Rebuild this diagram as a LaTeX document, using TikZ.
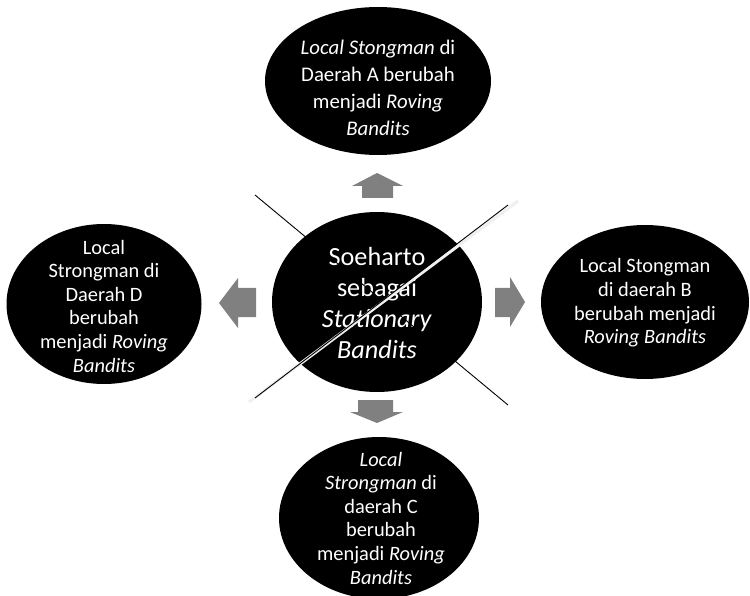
\documentclass[tikz,border=0pt]{standalone}
\usepackage{fontspec}
\setmainfont{Carlito}
\usetikzlibrary{shapes.geometric}
\begin{document}
\begin{tikzpicture}[x=1pt,y=-1pt,
  blob/.style={ellipse, fill=black, inner sep=0pt, outer sep=0pt},
  label/.style={text=white, align=center, inner sep=0pt},
  toptxt/.style={font=\fontsize{20.8}{27}\selectfont},
  smalltxt/.style={font=\fontsize{20.4}{23.6}\selectfont},
  bigtxt/.style={font=\fontsize{26.2}{31}\selectfont},
  blockarrow/.style={fill=gray},
  xline/.style={draw=black, line width=0.9pt},
  band/.style={draw=gray!12, line width=3.2pt}
]
\useasboundingbox (0,0) rectangle (750,596);
% ellipses
\node[blob, minimum width=226pt, minimum height=148pt] (A) at (378,81) {};
\node[blob, minimum width=208pt, minimum height=154pt] (B) at (645,302) {};
\node[blob, minimum width=200pt, minimum height=162pt] (C) at (379,518) {};
\node[blob, minimum width=195pt, minimum height=160pt] (D) at (104,304) {};
\node[blob, minimum width=210pt, minimum height=180pt] (S) at (377,302) {};
\node[label, toptxt] (tA) at (378,88)
  {\textit{Local Stongman} di\\Daerah A berubah\\menjadi \textit{Roving}\\\textit{Bandits}};
\node[label, smalltxt] (tB) at (645,303)
  {Local Stongman\\di daerah B\\berubah menjadi\\\textit{Roving Bandits}};
\node[label, smalltxt] (tC) at (381,518)
  {\textit{Local}\\\textit{Strongman} di\\daerah C\\berubah\\menjadi \textit{Roving}\\\textit{Bandits}};
\node[label, smalltxt] (tD) at (104,306)
  {Local\\Strongman di\\Daerah D\\berubah\\menjadi \textit{Roving}\\\textit{Bandits}};
\node[label, bigtxt] (tS) at (377,303)
  {Soeharto\\sebagai\\\textit{Stationary}\\\textit{Bandits}};
% X lines
\coordinate (l1a) at (255,195);
\coordinate (l1b) at (508,405);
\coordinate (l2a) at (255,398);
\coordinate (l2b) at (508,205);
\coordinate (b2a) at (249,402);
\coordinate (b2b) at (518,201);
\draw[xline] (l1a) -- (l1b);
\draw[band] (b2a) -- (b2b);
\draw[xline] (l2a) -- (l2b);
% block arrows
\fill[blockarrow] (377,173) -- (403,186) -- (393,186) -- (393,198) -- (362,198) -- (362,186) -- (352,186) -- cycle;
\fill[blockarrow] (525,302) -- (510,327) -- (510,317) -- (495,317) -- (495,288) -- (510,288) -- (510,277) -- cycle;
\fill[blockarrow] (219,303) -- (238,278) -- (238,288) -- (256,288) -- (256,317) -- (238,317) -- (238,328) -- cycle;
\fill[blockarrow] (377,423) -- (403,412) -- (393,412) -- (393,400) -- (358,400) -- (358,412) -- (350,412) -- cycle;
\end{tikzpicture}
\end{document}
